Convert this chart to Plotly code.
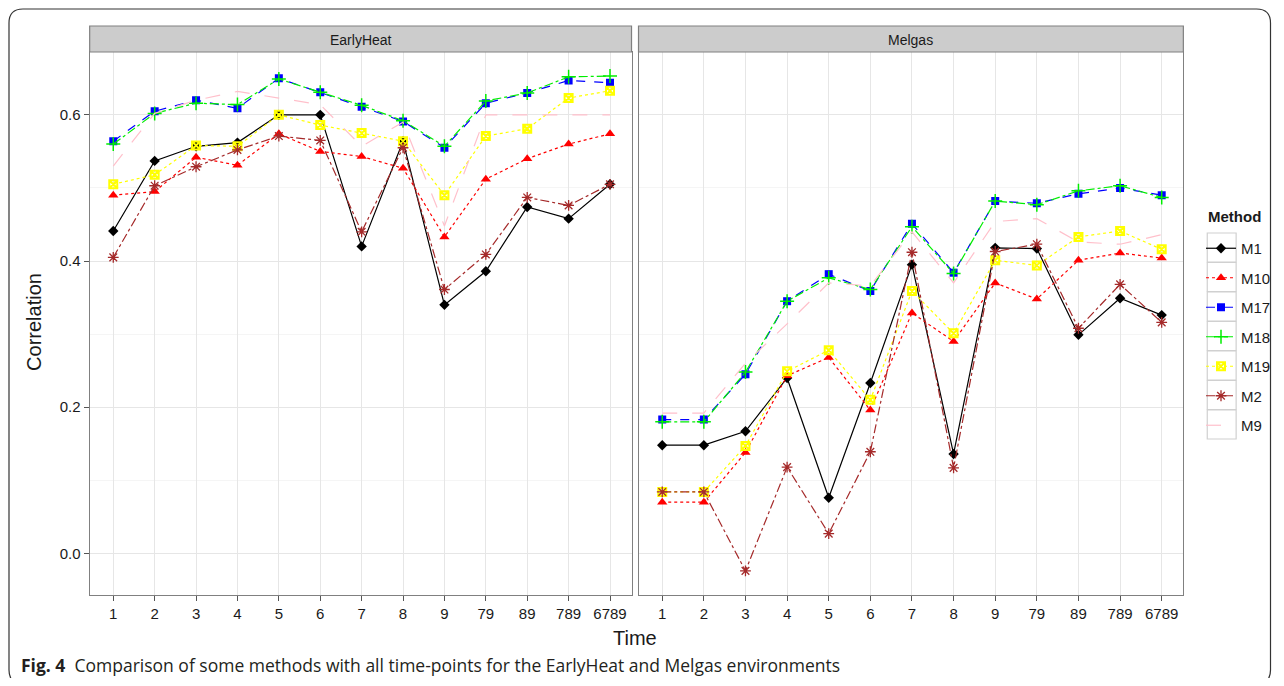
import plotly.graph_objects as go

times = ["1", "2", "3", "4", "5", "6", "7", "8", "9", "79", "89", "789", "6789"]
methods = ["M1", "M10", "M17", "M18", "M19", "M2", "M9"]
panels = ["EarlyHeat", "Melgas"]

# EarlyHeat correlations
eh_M1 = [0.441, 0.537, 0.557, 0.562, 0.600, 0.600, 0.420, 0.564, 0.340, 0.386, 0.474, 0.458, 0.505]
eh_M10 = [0.490, 0.495, 0.542, 0.531, 0.574, 0.550, 0.543, 0.527, 0.433, 0.512, 0.540, 0.560, 0.574]
eh_M17 = [0.564, 0.605, 0.620, 0.609, 0.650, 0.631, 0.611, 0.591, 0.555, 0.616, 0.630, 0.647, 0.644]
eh_M18 = [0.560, 0.602, 0.616, 0.614, 0.649, 0.631, 0.613, 0.592, 0.557, 0.619, 0.630, 0.652, 0.653]
eh_M19 = [0.505, 0.518, 0.558, 0.557, 0.600, 0.586, 0.575, 0.564, 0.490, 0.571, 0.581, 0.623, 0.633]
eh_M2 = [0.405, 0.503, 0.529, 0.552, 0.571, 0.565, 0.440, 0.555, 0.361, 0.409, 0.487, 0.476, 0.505]
eh_M9 = [0.530, 0.602, 0.620, 0.632, 0.623, 0.614, 0.557, 0.590, 0.448, 0.600, 0.600, 0.600, 0.600]

# Melgas correlations
mg_M1 = [0.148, 0.148, 0.167, 0.240, 0.076, 0.233, 0.395, 0.136, 0.418, 0.417, 0.299, 0.349, 0.326]
mg_M10 = [0.070, 0.070, 0.138, 0.243, 0.268, 0.196, 0.329, 0.290, 0.370, 0.348, 0.401, 0.411, 0.404]
mg_M17 = [0.183, 0.183, 0.245, 0.345, 0.382, 0.359, 0.451, 0.384, 0.482, 0.479, 0.492, 0.500, 0.490]
mg_M18 = [0.180, 0.180, 0.248, 0.345, 0.377, 0.361, 0.447, 0.383, 0.482, 0.477, 0.496, 0.503, 0.487]
mg_M19 = [0.084, 0.084, 0.147, 0.249, 0.278, 0.210, 0.359, 0.301, 0.401, 0.394, 0.433, 0.441, 0.416]
mg_M2 = [0.084, 0.084, -0.024, 0.118, 0.027, 0.139, 0.412, 0.117, 0.413, 0.423, 0.308, 0.368, 0.316]
mg_M9 = [0.192, 0.192, 0.260, 0.314, 0.370, 0.366, 0.440, 0.370, 0.454, 0.458, 0.426, 0.423, 0.436]

data = {
    "EarlyHeat": {"M1": eh_M1, "M10": eh_M10, "M17": eh_M17, "M18": eh_M18,
                  "M19": eh_M19, "M2": eh_M2, "M9": eh_M9},
    "Melgas": {"M1": mg_M1, "M10": mg_M10, "M17": mg_M17, "M18": mg_M18,
               "M19": mg_M19, "M2": mg_M2, "M9": mg_M9},
}

styles = {
    "M1": dict(color="#000000", dash="solid", symbol="diamond", size=8, mlw=0),
    "M10": dict(color="#ff0000", dash="dot", symbol="triangle-up", size=9, mlw=0),
    "M17": dict(color="#0000ff", dash="dash", symbol="square", size=8, mlw=0),
    "M18": dict(color="#00ee00", dash="dashdot", symbol="cross-thin-open", size=10, mlw=1.5),
    "M19": dict(color="#ffff00", dash="dot", symbol="square-x-open", size=8, mlw=2),
    "M2": dict(color="#a52a2a", dash="dashdot", symbol="asterisk-open", size=9, mlw=1.3),
    "M9": dict(color="#ffc0cb", dash="longdash", symbol=None, size=0, mlw=0),
}

# page body has an 8px margin; map reference pixel coords to paper coords
OX, OY = 8, 8
W, H = 1284 - 2 * OX, 686 - 2 * OY
def px(x): return (x - OX) / W
def py(y): return 1 - (y - OY) / H

fig = go.Figure()
axes = [("x", "y"), ("x2", "y2")]
for pi, panel in enumerate(panels):
    xa, ya = axes[pi]
    for m in methods:
        s = styles[m]
        mode = "lines" if s["symbol"] is None else "lines+markers"
        marker = dict(color=s["color"], size=s["size"])
        if s["symbol"] is not None:
            marker["symbol"] = s["symbol"]
            marker["line"] = dict(color=s["color"], width=s["mlw"])
        fig.add_trace(go.Scatter(
            x=times, y=data[panel][m], mode=mode, name=m,
            legendgroup=m, showlegend=(pi == 0),
            line=dict(color=s["color"], dash=s["dash"], width=1.2),
            marker=marker, xaxis=xa, yaxis=ya,
        ))

FONT = "Liberation Sans, Arial, sans-serif"
grid = "#e6e6e6"
tickfont = dict(family=FONT, size=15, color="#1a1a1a")
xcommon = dict(type="category", categoryorder="array", categoryarray=times,
               range=[-0.57, 12.52], showgrid=True, gridcolor=grid, gridwidth=1.3,
               ticks="outside", ticklen=5, tickcolor="#555555", tickfont=tickfont,
               showline=True, linecolor="#808080", linewidth=1.2, mirror=True,
               zeroline=False, fixedrange=True)
ycommon = dict(range=[-0.057, 0.686], tickvals=[0.0, 0.2, 0.4, 0.6],
               ticktext=["0.0", "0.2", "0.4", "0.6"], showgrid=True,
               gridcolor=grid, gridwidth=1.3,
               minor=dict(tickvals=[0.1, 0.3, 0.5], showgrid=True, gridcolor="#f5f5f5", gridwidth=1.2),
               showline=True, linecolor="#808080", linewidth=1.2, mirror=True,
               zeroline=False, tickfont=tickfont, ticklen=5, tickcolor="#555555",
               fixedrange=True)

fig.update_layout(
    width=W, height=H,
    margin=dict(l=0, r=0, t=0, b=0),
    paper_bgcolor="white", plot_bgcolor="white",
    xaxis=dict(domain=[px(90), px(634)], anchor="y", **xcommon),
    xaxis2=dict(domain=[px(641), px(1188)], anchor="y2", **xcommon),
    yaxis=dict(domain=[py(595), py(52)], anchor="x", ticks="outside", **ycommon),
    yaxis2=dict(domain=[py(595), py(52)], anchor="x2", showticklabels=False, ticks="", **ycommon),
    legend=dict(
        x=px(1206), y=py(232), xanchor="left", yanchor="top",
        font=dict(family=FONT, size=15, color="#1a1a1a"),
        tracegroupgap=7, itemwidth=30, bgcolor="rgba(0,0,0,0)",
    ),
    showlegend=True,
)

shapes = []
# strips
for x0, x1 in [(90, 634), (641, 1188)]:
    shapes.append(dict(type="rect", xref="paper", yref="paper",
                       x0=px(x0), x1=px(x1), y0=py(52), y1=py(26),
                       fillcolor="#cccccc", line=dict(color="#808080", width=1.2)))
# legend key boxes
for i in range(len(methods)):
    c = 247.5 + 29.5 * i
    shapes.append(dict(type="rect", xref="paper", yref="paper", layer="below",
                       x0=px(1212), x1=px(1241), y0=py(c + 14.5), y1=py(c - 14.5),
                       fillcolor="white", line=dict(color="#d0d0d0", width=1.2)))
# rounded outer frame
x0, x1, y0, y1, r = 9, 1275.5, 9, 684, 14
path = (f"M {px(x0+r)},{py(y0)} L {px(x1-r)},{py(y0)} "
        f"Q {px(x1)},{py(y0)} {px(x1)},{py(y0+r)} L {px(x1)},{py(y1-r)} "
        f"Q {px(x1)},{py(y1)} {px(x1-r)},{py(y1)} L {px(x0+r)},{py(y1)} "
        f"Q {px(x0)},{py(y1)} {px(x0)},{py(y1-r)} L {px(x0)},{py(y0+r)} "
        f"Q {px(x0)},{py(y0)} {px(x0+r)},{py(y0)} Z")
shapes.append(dict(type="path", xref="paper", yref="paper", path=path,
                   line=dict(color="#333333", width=1.2)))
fig.update_layout(shapes=shapes)

lab = dict(family=FONT, color="#1a1a1a")
common = dict(xref="paper", yref="paper", showarrow=False, yanchor="middle")
annotations = [
    dict(text="EarlyHeat", x=px(362), y=py(39.5), xanchor="center",
         font=dict(size=14, **lab), **common),
    dict(text="Melgas", x=px(914), y=py(39.5), xanchor="center",
         font=dict(size=14, **lab), **common),
    dict(text="Correlation", x=px(34), y=py(322), xanchor="center", textangle=-90,
         font=dict(size=20, **lab), **common),
    dict(text="Time", x=px(637), y=py(638), xanchor="center",
         font=dict(size=20, **lab), **common),
    dict(text="<b>Method</b>", x=px(1211), y=py(217), xanchor="left",
         font=dict(size=15, **lab), **common),
    dict(text="<b>Fig. 4</b>  Comparison of some methods with all time-points for the EarlyHeat and Melgas environments",
         x=px(19), y=py(665), xanchor="left",
         font=dict(family="Open Sans, Noto Sans, sans-serif", size=17.5, color="#231f20"), **common),
]
fig.update_layout(annotations=annotations)

fig.write_html("out.html")
